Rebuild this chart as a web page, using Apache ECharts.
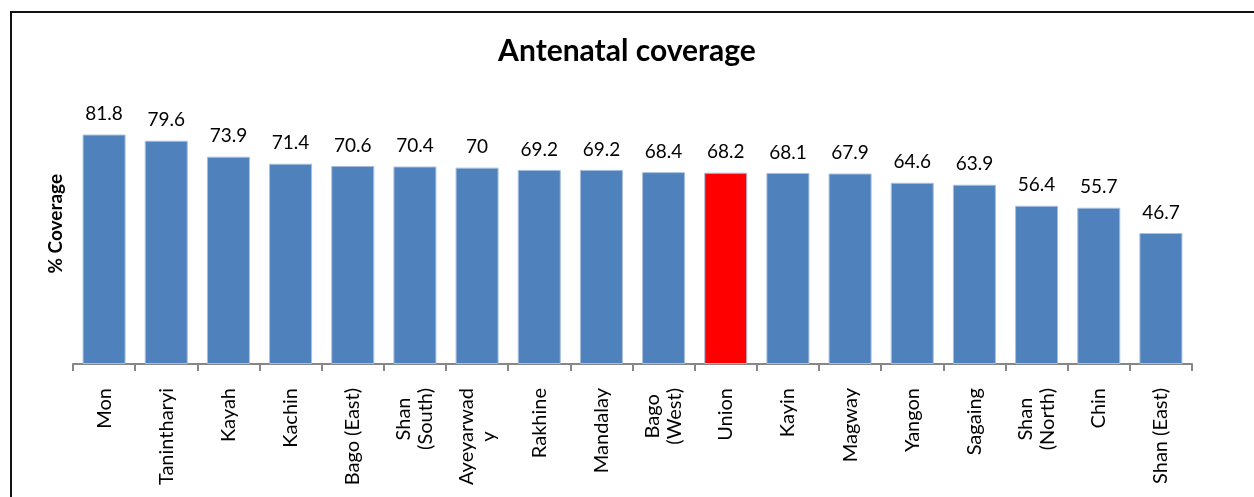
<!DOCTYPE html>
<html>
    <head>
        <meta charset="UTF-8">
        <title>Antenatal coverage</title>
        <script type="text/javascript" src="https://cdn.jsdelivr.net/npm/echarts@6/dist/echarts.min.js"></script>
    </head>
    <body style="margin: 0; background: #fff;">
        <div id="container" style="width: 1254px; height: 497px;"></div>
        <div style="position: absolute; left: 10px; top: 11px; width: 1260px; height: 500px; border-left: 2px solid #111; border-top: 2px solid #111; pointer-events: none;"></div>
    </body>
    <script type="text/javascript">
        var dom = document.getElementById("container");
        var myChart = echarts.init(dom);

        var regions = ['Mon', 'Tanintharyi', 'Kayah', 'Kachin', 'Bago (East)', 'Shan\n(South)',
            'Ayeyarwad\ny', 'Rakhine', 'Mandalay', 'Bago\n(West)', 'Union', 'Kayin', 'Magway',
            'Yangon', 'Sagaing', 'Shan\n(North)', 'Chin', 'Shan (East)'];
        var coverage = [81.8, 79.6, 73.9, 71.4, 70.6, 70.4, 70, 69.2, 69.2, 68.4, 68.2, 68.1, 67.9,
            64.6, 63.9, 56.4, 55.7, 46.7];
        var highlight = 'Union';

        var font = 'Lato, "DejaVu Sans", sans-serif';

        var option = {
            animation: false,
            title: {
                text: 'Antenatal coverage',
                left: 'center',
                top: 31,
                textStyle: { fontFamily: font, fontSize: 30, fontWeight: 'bold', color: '#000' }
            },
            grid: { left: 73, right: 62, top: 83.5, bottom: 133 },
            xAxis: {
                type: 'category',
                data: regions,
                axisLine: { lineStyle: { color: '#878787', width: 2 } },
                axisTick: { show: true, interval: 0, alignWithLabel: false, length: 7, lineStyle: { color: '#878787', width: 2 } },
                axisLabel: {
                    rotate: 90,
                    margin: 24,
                    interval: 0,
                    formatter: function (v) {
                        return v.split('\n').map(function (s) { return '{c|' + s + '}'; }).join('\n');
                    },
                    rich: {
                        c: { align: 'center', fontFamily: font, fontSize: 20, color: '#000', lineHeight: 22 }
                    }
                }
            },
            yAxis: {
                type: 'value',
                min: 0,
                max: 100,
                name: '% Coverage',
                nameLocation: 'middle',
                nameGap: 8,
                nameRotate: 90,
                nameTextStyle: { fontFamily: font, fontSize: 19, fontWeight: 'bold', color: '#000' },
                axisLine: { show: false },
                axisTick: { show: false },
                axisLabel: { show: false },
                splitLine: { show: false }
            },
            series: [{
                type: 'bar',
                barWidth: 43,
                data: coverage.map(function (v, i) {
                    return {
                        value: v,
                        itemStyle: { color: regions[i] === highlight ? '#FF0000' : '#4F81BD' }
                    };
                }),
                itemStyle: { borderColor: '#A7BFDE', borderWidth: 1 },
                label: {
                    show: true,
                    position: 'top',
                    distance: 11,
                    fontFamily: font,
                    fontSize: 19,
                    color: '#000'
                }
            }]
        };

        myChart.setOption(option);
    </script>
</html>
